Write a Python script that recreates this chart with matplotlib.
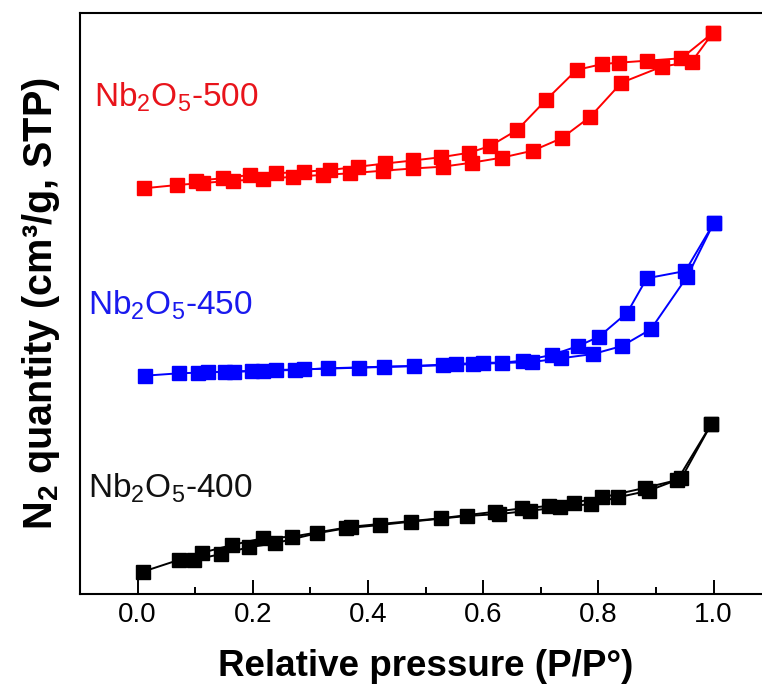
import matplotlib
matplotlib.use("Agg")
import matplotlib.pyplot as plt
from matplotlib.ticker import MultipleLocator

plt.rcParams['font.family'] = ['Liberation Sans', 'DejaVu Sans']
plt.rcParams['mathtext.fontset'] = 'custom'
plt.rcParams['mathtext.rm'] = 'Liberation Sans'
plt.rcParams['mathtext.it'] = 'Liberation Sans:italic'
plt.rcParams['mathtext.bf'] = 'Liberation Sans:bold'

# ---- data (relative pressure, N2 quantity in arbitrary offset units) ----
p_ads_500 = [0.011, 0.069, 0.113, 0.166, 0.218, 0.270, 0.321, 0.369, 0.426, 0.478,
             0.530, 0.580, 0.632, 0.686, 0.736, 0.786, 0.840, 0.910, 0.962, 0.999]
q_ads_500 = [405.7, 409, 411, 413.3, 414.7, 417.3, 419, 420.7, 423.3, 425.5,
             427.3, 431.3, 436.3, 443.3, 455.7, 477.3, 511.3, 527.3, 532.3, 561.3]
p_des_500 = [0.999, 0.944, 0.884, 0.836, 0.807, 0.762, 0.709, 0.659, 0.612, 0.576,
             0.526, 0.478, 0.430, 0.383, 0.334, 0.288, 0.241, 0.195, 0.148, 0.101]
q_des_500 = [561.3, 535.7, 533.3, 531.3, 530, 524, 494, 464, 448, 441.3,
             436.7, 433.5, 430.5, 427.3, 424, 422.3, 420.7, 419, 415.7, 413.3]

p_ads_450 = [0.013, 0.072, 0.105, 0.152, 0.198, 0.241, 0.288, 0.384, 0.530, 0.583,
             0.685, 0.735, 0.791, 0.841, 0.891, 0.954, 1.0]
q_ads_450 = [218.3, 220.7, 221.3, 222.3, 223, 224, 224.7, 226.3, 228.7, 230,
             232, 235.7, 240, 248, 264.7, 317.3, 370.7]
p_des_450 = [1.0, 0.951, 0.884, 0.850, 0.801, 0.765, 0.719, 0.669, 0.632, 0.599,
             0.553, 0.480, 0.427, 0.331, 0.274, 0.218, 0.168, 0.122]
q_des_450 = [370.7, 323, 315.7, 281.3, 257.3, 248, 239, 233.3, 231.3, 231.3,
             230, 228, 227.3, 225.7, 224, 223.3, 222.3, 221.7]

p_ads_400 = [0.009, 0.071, 0.097, 0.145, 0.193, 0.238, 0.311, 0.361, 0.421, 0.474,
             0.571, 0.628, 0.681, 0.734, 0.787, 0.834, 0.887, 0.944, 0.996]
q_ads_400 = [22.3, 34, 34, 40, 46.7, 50.7, 60.7, 65.7, 69, 72.3,
             78, 80, 83.3, 86.7, 90, 96.7, 103.3, 115.7, 170]
p_des_400 = [0.996, 0.937, 0.880, 0.807, 0.757, 0.714, 0.668, 0.621, 0.526, 0.371,
             0.268, 0.217, 0.164, 0.112]
q_des_400 = [170, 114, 106, 96.7, 91.3, 88, 85.7, 82.3, 75.7, 67.3,
             57.3, 55.7, 49, 41.3]

labels = ['Nb$_2$O$_5$-500', 'Nb$_2$O$_5$-450', 'Nb$_2$O$_5$-400']
colors = ['#ff0000', '#0000ff', '#000000']
label_colors = ['#e8141b', '#1a1aee', '#111111']

fig = plt.figure(figsize=(7.62, 6.94), dpi=100)
ax = fig.add_axes([0.1051, 0.1441, 0.907, 0.8372])

series = [
    (p_ads_500, q_ads_500, p_des_500, q_des_500),
    (p_ads_450, q_ads_450, p_des_450, q_des_450),
    (p_ads_400, q_ads_400, p_des_400, q_des_400),
]
for (pa, qa, pd, qd), c in zip(series, colors):
    ax.plot(pa, qa, '-', color=c, lw=1.4, marker='s', ms=9.5, mec=c, mfc=c)
    ax.plot(pd, qd, '-', color=c, lw=1.4, marker='s', ms=9.5, mec=c, mfc=c)

label_pos = [(-0.075, 487), (-0.087, 279), (-0.086, 96)]
for lab, (lx, ly), c in zip(labels, label_pos, label_colors):
    ax.text(lx, ly, lab, color=c, fontsize=24, ha='left', va='baseline')

ax.set_xlim(-0.1, 1.1)
ax.set_ylim(0, 581)
ax.xaxis.set_major_locator(MultipleLocator(0.2))
ax.xaxis.set_minor_locator(MultipleLocator(0.1))
ax.set_xticks([0.0, 0.2, 0.4, 0.6, 0.8, 1.0])
ax.set_xticklabels(['0.0', '0.2', '0.4', '0.6', '0.8', '1.0'])
ax.tick_params(axis='x', which='major', direction='in', length=10, width=1.4,
               labelsize=20, pad=6, top=False)
ax.tick_params(axis='x', which='minor', direction='in', length=5, width=1.4, top=False)
ax.set_yticks([])
for s in ['left', 'bottom', 'top']:
    ax.spines[s].set_linewidth(1.5)
ax.spines['right'].set_visible(False)

ax.set_xlabel('Relative pressure (P/P°)', fontsize=26.5, fontweight='bold', labelpad=15)
ax.set_ylabel(r'N$_\mathbf{2}$ quantity (cm³/g, STP)', fontsize=28.5, fontweight='bold', labelpad=13)

fig.savefig('out.png', dpi=100)
